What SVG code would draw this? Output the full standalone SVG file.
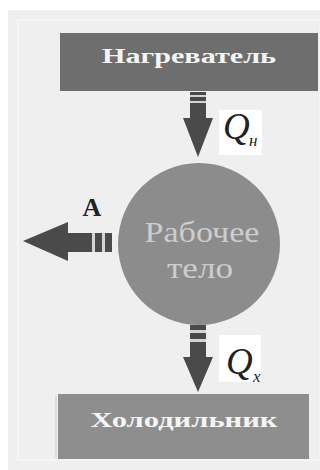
<svg xmlns="http://www.w3.org/2000/svg" width="320" height="470" viewBox="0 0 320 470">
  <style>
    .box-title { font-family: "Liberation Serif", "DejaVu Serif", serif; font-weight: bold; fill: #f4f4f4; text-anchor: middle; }
    .body-text { font-family: "Liberation Serif", "DejaVu Serif", serif; fill: #cdcdcd; text-anchor: middle; font-size: 30px; }
    .arrow { fill: #4a4a4a; }
    .gap { fill: #d4d4d4; }
    .qbox { fill: #ffffff; }
    .q { font-family: "Liberation Serif", serif; font-style: italic; fill: #222222; }
    .alabel { font-family: "Liberation Serif", serif; font-weight: bold; fill: #222222; font-size: 26px; text-anchor: middle; }
  </style>
  <rect x="0" y="0" width="320" height="470" fill="#ffffff"/>
  <rect x="8" y="10" width="312" height="460" fill="#efefef"/>
  <rect x="18" y="20" width="302" height="440" fill="none" stroke="#f5f5f5" stroke-width="2"/>

  <g id="heater">
    <rect x="60" y="33" width="258" height="58" fill="#6e6e6e"/>
    <text class="box-title" x="189" y="63" font-size="21" textLength="174" lengthAdjust="spacingAndGlyphs">Нагреватель</text>
  </g>

  <g id="working-body">
    <circle cx="199" cy="244" r="81" fill="#8c8c8c"/>
    <text class="body-text" x="202" y="242" textLength="115" lengthAdjust="spacingAndGlyphs">Рабочее</text>
    <text class="body-text" x="200" y="278" textLength="66" lengthAdjust="spacingAndGlyphs">тело</text>
  </g>

  <g id="cooler">
    <rect x="55" y="396" width="2" height="62" fill="#dcdcdc"/>
    <rect x="58" y="394" width="251" height="65" fill="#8e8e8e"/>
    <text class="box-title" x="184" y="427" font-size="20" textLength="187" lengthAdjust="spacingAndGlyphs">Холодильник</text>
  </g>

  <g id="connectors">
    <g id="arrow-qh">
      <polygon class="arrow" points="190,92 206,92 206,118 213,118 198,157 183,118 190,118"/>
      <rect class="gap" x="190" y="95" width="16" height="2"/>
      <rect class="gap" x="190" y="101" width="16" height="2"/>
      <rect class="qbox" x="219" y="110" width="43" height="45"/>
      <text class="q" x="223" y="139" font-size="37">Q</text>
      <text class="q" x="249" y="146" font-size="17">н</text>
    </g>
    <g id="arrow-a">
      <polygon class="arrow" points="112,233 68,233 68,222 23,241 68,261 68,252 112,252"/>
      <rect class="gap" x="92" y="233" width="3" height="19"/>
      <rect class="gap" x="102" y="233" width="3" height="19"/>
      <text class="alabel" x="92" y="216">A</text>
    </g>
    <g id="arrow-qx">
      <polygon class="arrow" points="190,325 206,325 206,357 213,357 198,392 183,357 190,357"/>
      <rect class="gap" x="190" y="330" width="16" height="3"/>
      <rect class="gap" x="190" y="339" width="16" height="3"/>
      <rect class="qbox" x="219" y="335" width="42" height="47"/>
      <text class="q" x="226" y="374" font-size="37">Q</text>
      <text class="q" x="253" y="382" font-size="17">x</text>
    </g>
  </g>
</svg>
